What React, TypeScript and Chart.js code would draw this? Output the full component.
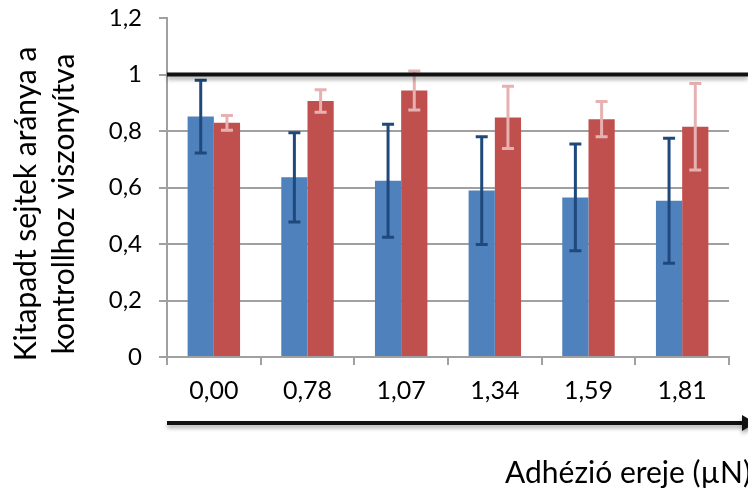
import React, { useEffect, useRef } from "react";
import { Chart, registerables } from "chart.js";

Chart.register(...registerables);

const categories = ["0,00", "0,78", "1,07", "1,34", "1,59", "1,81"];
const blueValues = [0.851, 0.636, 0.624, 0.589, 0.565, 0.553];
const blueErrors = [0.129, 0.158, 0.2, 0.191, 0.189, 0.221];
const redValues = [0.829, 0.906, 0.943, 0.848, 0.842, 0.815];
const redErrors = [0.026, 0.04, 0.069, 0.11, 0.062, 0.153];
const yTickLabels = ["0", "0,2", "0,4", "0,6", "0,8", "1", "1,2"];
const yTitleLines = ["Kitapadt sejtek aránya a", "kontrollhoz viszonyítva"];
const xTitle = "Adhézió ereje (µN)";
const referenceLevel = 1;

const FONT = "Lato, 'Open Sans', sans-serif";
const GRID = "#a0a0a0";

const errorBarPlugin = {
  id: "errorBars",
  afterDatasetsDraw(chart: any) {
    const ctx = chart.ctx;
    const y = chart.scales.y;
    const sets = [
      { vals: blueValues, errs: blueErrors, color: "#1f497d" },
      { vals: redValues, errs: redErrors, color: "#e6b2b1" },
    ];
    ctx.save();
    sets.forEach((s, i) => {
      const meta = chart.getDatasetMeta(i);
      meta.data.forEach((el: any, j: number) => {
        const x = el.x;
        const top = y.getPixelForValue(s.vals[j] + s.errs[j]);
        const bot = y.getPixelForValue(s.vals[j] - s.errs[j]);
        ctx.strokeStyle = s.color;
        ctx.lineWidth = 3;
        ctx.beginPath();
        ctx.moveTo(x, top);
        ctx.lineTo(x, bot);
        ctx.moveTo(x - 6, top);
        ctx.lineTo(x + 6, top);
        ctx.moveTo(x - 6, bot);
        ctx.lineTo(x + 6, bot);
        ctx.stroke();
      });
    });
    ctx.restore();
  },
};

const decorPlugin = {
  id: "decor",
  afterDraw(chart: any) {
    const ctx = chart.ctx;
    const area = chart.chartArea;
    const y = chart.scales.y;
    const W = chart.width;
    ctx.save();
    ctx.shadowColor = "rgba(0,0,0,0.35)";
    ctx.shadowBlur = 4;
    ctx.shadowOffsetY = 3;
    ctx.strokeStyle = "#111";
    ctx.lineWidth = 4;
    const yl = y.getPixelForValue(referenceLevel);
    ctx.beginPath();
    ctx.moveTo(area.left, yl);
    ctx.lineTo(W, yl);
    ctx.stroke();
    const ya = area.bottom + 66;
    ctx.beginPath();
    ctx.moveTo(area.left, ya);
    ctx.lineTo(W - 4, ya);
    ctx.stroke();
    ctx.fillStyle = "#111";
    ctx.beginPath();
    ctx.moveTo(W - 6, ya - 8);
    ctx.lineTo(W + 8, ya);
    ctx.lineTo(W - 6, ya + 8);
    ctx.closePath();
    ctx.fill();
    ctx.restore();

    ctx.save();
    ctx.fillStyle = "#000";
    ctx.font = `30px ${FONT}`;
    ctx.textAlign = "center";
    ctx.textBaseline = "middle";
    const cy = 204;
    [26, 64].forEach((cx, i) => {
      ctx.save();
      ctx.translate(cx, cy);
      ctx.rotate(-Math.PI / 2);
      ctx.fillText(yTitleLines[i], 0, 0);
      ctx.restore();
    });
    ctx.textAlign = "right";
    ctx.textBaseline = "alphabetic";
    ctx.font = `30px ${FONT}`;
    ctx.fillText(xTitle, W + 3, 483);
    ctx.restore();
  },
};

export default function App() {
  const ref = useRef<HTMLCanvasElement | null>(null);
  useEffect(() => {
    document.body.style.margin = "0";
    const canvas = ref.current!;
    const chart = new Chart(canvas, {
      type: "bar",
      data: {
        labels: categories,
        datasets: [
          {
            data: blueValues,
            backgroundColor: "#4f81bd",
            barPercentage: 1,
            categoryPercentage: 0.56,
          },
          {
            data: redValues,
            backgroundColor: "#c0504d",
            barPercentage: 1,
            categoryPercentage: 0.56,
          },
        ],
      },
      options: {
        responsive: false,
        animation: false,
        devicePixelRatio: 1,
        layout: { padding: { top: 18, right: 19, left: 0, bottom: 0 } },
        plugins: {
          legend: { display: false },
          tooltip: { enabled: false },
          title: { display: false },
        },
        scales: {
          y: {
            min: 0,
            max: 1.2,
            ticks: {
              stepSize: 0.2,
              color: "#000",
              font: { family: FONT, size: 24 },
              padding: 17,
              callback: (_v: any, i: number) => yTickLabels[i],
            },
            grid: {
              color: (c: any) =>
                c.tick && c.tick.value > 1.19 ? "rgba(0,0,0,0)" : GRID,
              tickColor: GRID,
              lineWidth: 2,
              tickLength: 8,
            },
            border: { color: GRID, width: 2 },
            afterFit: (s: any) => {
              s.width = 167;
              s.paddingTop = 0;
              s.paddingBottom = 0;
            },
          },
          x: {
            offset: true,
            ticks: {
              color: "#000",
              font: { family: FONT, size: 25 },
              padding: 11,
            },
            grid: {
              offset: true,
              drawOnChartArea: false,
              color: GRID,
              lineWidth: 2,
              tickLength: 8,
            },
            border: { color: GRID, width: 2 },
            afterFit: (s: any) => {
              s.height = 136;
              s.paddingLeft = 0;
              s.paddingRight = 0;
            },
          },
        },
      },
      plugins: [errorBarPlugin, decorPlugin],
    });
    return () => chart.destroy();
  }, []);
  return (
    <div style={{ width: 748, height: 493 }}>
      <canvas ref={ref} width={748} height={493} style={{ display: "block" }} />
    </div>
  );
}
